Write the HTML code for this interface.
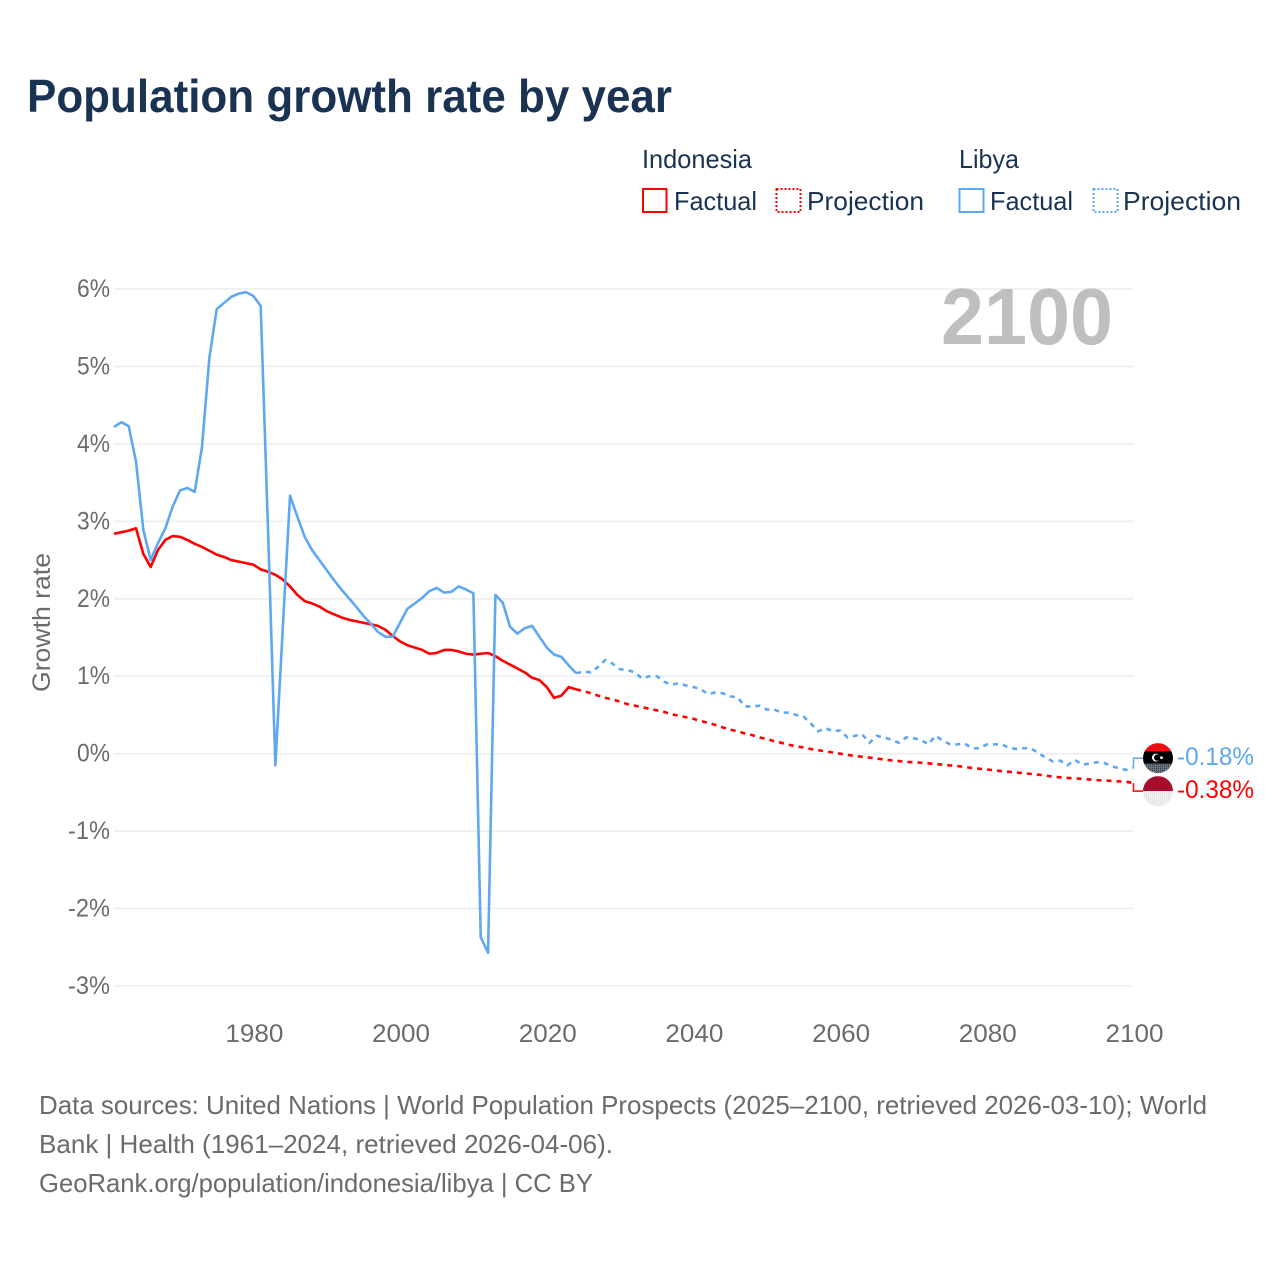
<!DOCTYPE html>
<html lang="en">
<head>
<meta charset="utf-8">
<title>Population growth rate by year</title>
<style>
html,body{margin:0;padding:0;background:#fff;}
svg{display:block;}
text{font-family:"Liberation Sans",sans-serif;}
</style>
</head>
<body>
<svg id="chart" xmlns="http://www.w3.org/2000/svg" width="1280" height="1280" viewBox="0 0 1280 1280">
  <defs>
    <clipPath id="flag-clip"><circle cx="0" cy="0" r="15"/></clipPath>
    <pattern id="dots-grey" width="2" height="2" patternUnits="userSpaceOnUse"><rect width="2" height="2" fill="#6a7580"/><rect width="1" height="1" fill="#2b3440"/></pattern>
    <pattern id="dots-light" width="2" height="2" patternUnits="userSpaceOnUse"><rect width="2" height="2" fill="#f0f0f0"/><rect width="1" height="1" fill="#dcdcdc"/></pattern>
  </defs>
  <rect width="1280" height="1280" fill="#ffffff"/>
  <text x="27" y="112" font-size="46" font-weight="700" fill="#1a3353" textLength="645" lengthAdjust="spacingAndGlyphs">Population growth rate by year</text>

  <g font-size="26" fill="#1a3353">
    <text x="642" y="168" textLength="110" lengthAdjust="spacingAndGlyphs">Indonesia</text>
    <text x="959" y="168" textLength="60" lengthAdjust="spacingAndGlyphs">Libya</text>
    <g>
      <rect x="643" y="189" width="23.5" height="23" fill="none" stroke="#ff0000" stroke-width="2"/>
      <text x="674" y="210" textLength="83" lengthAdjust="spacingAndGlyphs">Factual</text>
    </g>
    <g>
      <rect x="776.5" y="189" width="24" height="23" fill="none" stroke="#ff0000" stroke-width="2" stroke-dasharray="2 2"/>
      <text x="807" y="210" textLength="117" lengthAdjust="spacingAndGlyphs">Projection</text>
    </g>
    <g>
      <rect x="959.5" y="189" width="24" height="23" fill="none" stroke="#5fa8ef" stroke-width="2"/>
      <text x="990" y="210" textLength="83" lengthAdjust="spacingAndGlyphs">Factual</text>
    </g>
    <g>
      <rect x="1093.5" y="189" width="24" height="23" fill="none" stroke="#5fa8ef" stroke-width="2" stroke-dasharray="2 2"/>
      <text x="1123" y="210" textLength="118" lengthAdjust="spacingAndGlyphs">Projection</text>
    </g>
  </g>

  <g id="grid"></g>
  <text x="941" y="344" font-size="80" font-weight="700" fill="#bfbfbf" textLength="172" lengthAdjust="spacingAndGlyphs">2100</text>
  <g id="y-axis"></g>
  <g id="x-axis"></g>
  <text transform="translate(50,692) rotate(-90)" x="0" y="0" font-size="25" fill="#6b6b6b" textLength="139" lengthAdjust="spacingAndGlyphs">Growth rate</text>
  <g id="series"></g>
  <g id="end-labels"></g>

  <g font-size="26" fill="#6b6b6b">
    <text x="39" y="1114" textLength="1168" lengthAdjust="spacingAndGlyphs">Data sources: United Nations | World Population Prospects (2025–2100, retrieved 2026-03-10); World</text>
    <text x="39" y="1153" textLength="574" lengthAdjust="spacingAndGlyphs">Bank | Health (1961–2024, retrieved 2026-04-06).</text>
    <text x="39" y="1192" textLength="554" lengthAdjust="spacingAndGlyphs">GeoRank.org/population/indonesia/libya | CC BY</text>
  </g>
</svg>
<script>
const years = [
1961,1962,1963,1964,1965,1966,1967,1968,1969,1970,
1971,1972,1973,1974,1975,1976,1977,1978,1979,1980,
1981,1982,1983,1984,1985,1986,1987,1988,1989,1990,
1991,1992,1993,1994,1995,1996,1997,1998,1999,2000,
2001,2002,2003,2004,2005,2006,2007,2008,2009,2010,
2011,2012,2013,2014,2015,2016,2017,2018,2019,2020,
2021,2022,2023,2024,2025,2026,2027,2028,2029,2030,
2031,2032,2033,2034,2035,2036,2037,2038,2039,2040,
2041,2042,2043,2044,2045,2046,2047,2048,2049,2050,
2051,2052,2053,2054,2055,2056,2057,2058,2059,2060,
2061,2062,2063,2064,2065,2066,2067,2068,2069,2070,
2071,2072,2073,2074,2075,2076,2077,2078,2079,2080,
2081,2082,2083,2084,2085,2086,2087,2088,2089,2090,
2091,2092,2093,2094,2095,2096,2097,2098,2099,2100];
const indonesiaValues = [
2.84,2.86,2.88,2.91,2.58,2.41,2.63,2.76,2.81,2.80,
2.76,2.71,2.67,2.62,2.57,2.54,2.50,2.48,2.46,2.44,
2.38,2.35,2.31,2.25,2.16,2.05,1.97,1.94,1.90,1.84,
1.80,1.76,1.73,1.71,1.69,1.67,1.65,1.60,1.52,1.45,
1.40,1.37,1.34,1.29,1.30,1.34,1.34,1.32,1.29,1.28,
1.29,1.30,1.26,1.20,1.15,1.10,1.05,0.98,0.95,0.86,
0.72,0.75,0.86,0.83,0.81,0.78,0.75,0.72,0.70,0.67,
0.64,0.62,0.60,0.58,0.56,0.54,0.51,0.49,0.47,0.45,
0.42,0.40,0.37,0.34,0.31,0.29,0.26,0.24,0.21,0.19,
0.16,0.14,0.115,0.095,0.08,0.06,0.045,0.03,0.015,0.0,
-0.015,-0.03,-0.04,-0.05,-0.063,-0.076,-0.087,-0.096,-0.106,-0.11,
-0.116,-0.124,-0.134,-0.143,-0.152,-0.161,-0.17,-0.186,-0.195,-0.204,
-0.214,-0.226,-0.234,-0.243,-0.252,-0.261,-0.271,-0.283,-0.296,-0.305,
-0.313,-0.319,-0.325,-0.333,-0.341,-0.347,-0.351,-0.358,-0.363,-0.38];
const libyaValues = [
4.22,4.28,4.23,3.77,2.89,2.50,2.72,2.91,3.19,3.40,
3.43,3.38,3.96,5.11,5.74,5.82,5.90,5.94,5.96,5.91,
5.78,2.89,-0.15,1.60,3.33,3.06,2.80,2.63,2.50,2.37,
2.24,2.12,2.01,1.90,1.78,1.68,1.57,1.51,1.51,1.69,
1.87,1.94,2.01,2.10,2.14,2.08,2.09,2.16,2.12,2.07,
-2.37,-2.57,2.05,1.95,1.64,1.55,1.62,1.65,1.51,1.37,
1.28,1.25,1.14,1.04,1.06,1.05,1.12,1.21,1.16,1.09,
1.08,1.05,0.97,1.00,1.00,0.93,0.89,0.91,0.88,0.86,
0.83,0.77,0.79,0.78,0.74,0.73,0.61,0.61,0.62,0.57,
0.57,0.53,0.53,0.50,0.48,0.39,0.29,0.33,0.29,0.30,
0.21,0.23,0.25,0.14,0.23,0.21,0.18,0.14,0.21,0.20,
0.18,0.12,0.23,0.17,0.12,0.12,0.13,0.07,0.07,0.12,
0.12,0.12,0.08,0.06,0.07,0.07,0.01,-0.05,-0.10,-0.09,
-0.15,-0.08,-0.14,-0.13,-0.11,-0.12,-0.16,-0.19,-0.21,-0.18];
const lastFactualYear = 2024;
const xTickValues = [1980,2000,2020,2040,2060,2080,2100];
const yTickValues = [6,5,4,3,2,1,0,-1,-2,-3];

const NS = 'http://www.w3.org/2000/svg';
const RED = '#ff0000';
const BLUE = '#5fa8ef';
const GREY = '#6b6b6b';
const xLeft = 114, xRight = 1133.5, yTop = 289, yBottom = 986;
const xDomain = [1961, 2100], yDomain = [6, -3];

function xScale(year) {
  return xLeft + (year - xDomain[0]) * (xRight - xLeft) / (xDomain[1] - xDomain[0]);
}
function yScale(value) {
  return yTop + (value - yDomain[0]) * (yBottom - yTop) / (yDomain[1] - yDomain[0]);
}
function mk(tag, attrs, parent, content) {
  const el = document.createElementNS(NS, tag);
  for (const k in attrs) el.setAttribute(k, attrs[k]);
  if (content !== undefined) el.textContent = content;
  parent.appendChild(el);
  return el;
}
function linePath(values, fromYear, toYear) {
  let d = '';
  years.forEach(function (yr, i) {
    if (yr >= fromYear && yr <= toYear) {
      d += (d ? 'L' : 'M') + xScale(yr).toFixed(2) + ' ' + yScale(values[i]).toFixed(2);
    }
  });
  return d;
}

const gridG = document.getElementById('grid');
const yAxisG = document.getElementById('y-axis');
const xAxisG = document.getElementById('x-axis');
const seriesG = document.getElementById('series');
const endG = document.getElementById('end-labels');

yTickValues.forEach(function (v) {
  const line = mk('line', {x1: xLeft, x2: xRight, y1: yScale(v), y2: yScale(v), stroke: '#eeeeee', 'stroke-width': 1.6}, gridG);
  
  
  const label = v + '%';
  const w = label.length === 3 ? 42 : 33;
  const t = mk('text', {x: 110, y: yScale(v) + 8, 'text-anchor': 'end', 'font-size': 25, fill: GREY, textLength: w, lengthAdjust: 'spacingAndGlyphs'}, yAxisG, label);
  
  
});

xTickValues.forEach(function (yr) {
  const t = mk('text', {x: xScale(yr) + 1, y: 1042, 'text-anchor': 'middle', 'font-size': 25, fill: GREY, textLength: 58, lengthAdjust: 'spacingAndGlyphs'}, xAxisG, String(yr));
  
  
});

const indoFactual = mk('path', {d: linePath(indonesiaValues, 1961, lastFactualYear), fill: 'none', stroke: RED, 'stroke-width': 2.6, 'stroke-linejoin': 'round'}, seriesG);


const indoProj = mk('path', {d: linePath(indonesiaValues, lastFactualYear, 2100), fill: 'none', stroke: RED, 'stroke-width': 2.6, 'stroke-dasharray': '5 5'}, seriesG);


const libyaFactual = mk('path', {d: linePath(libyaValues, 1961, lastFactualYear), fill: 'none', stroke: BLUE, 'stroke-width': 2.6, 'stroke-linejoin': 'round'}, seriesG);


const libyaProj = mk('path', {d: linePath(libyaValues, lastFactualYear, 2100), fill: 'none', stroke: BLUE, 'stroke-width': 2.6, 'stroke-dasharray': '5 5'}, seriesG);



const endX = xScale(2100);
const libyaEndValue = libyaValues[libyaValues.length - 1];
const indoEndValue = indonesiaValues[indonesiaValues.length - 1];
const libyaEndY = yScale(libyaEndValue);
const indoEndY = yScale(indoEndValue);
const libyaLabelY = libyaEndY - 9.5;
const indoLabelY = indoEndY + 8;

const libyaConn = mk('path', {d: 'M' + endX + ' ' + libyaEndY + 'V' + libyaLabelY + 'H1143', fill: 'none', stroke: BLUE, 'stroke-width': 1.5}, endG);


const indoConn = mk('path', {d: 'M' + endX + ' ' + indoEndY + 'V' + indoLabelY + 'H1143', fill: 'none', stroke: RED, 'stroke-width': 1.5}, endG);



const libyaFlag = mk('g', {transform: 'translate(1158,' + libyaLabelY + ')', 'clip-path': 'url(#flag-clip)'}, endG);


mk('rect', {x: -15, y: -15, width: 30, height: 8, fill: '#f10d12'}, libyaFlag);
mk('rect', {x: -15, y: -7, width: 30, height: 13, fill: '#000000'}, libyaFlag);
mk('rect', {x: -15, y: 5.5, width: 30, height: 10, fill: 'url(#dots-grey)'}, libyaFlag);
mk('circle', {cx: -2, cy: -0.5, r: 4, fill: '#ffffff'}, libyaFlag);
mk('circle', {cx: -0.8, cy: -0.5, r: 3.2, fill: '#000000'}, libyaFlag);
mk('circle', {cx: 3.5, cy: -0.5, r: 1.4, fill: '#ffffff'}, libyaFlag);

const indoFlag = mk('g', {transform: 'translate(1158,' + indoLabelY + ')', 'clip-path': 'url(#flag-clip)'}, endG);


mk('rect', {x: -15, y: -15, width: 30, height: 15, fill: '#a50e2d'}, indoFlag);
mk('rect', {x: -15, y: 0, width: 30, height: 15, fill: 'url(#dots-light)'}, indoFlag);

const libyaEnd = mk('text', {x: 1177, y: libyaLabelY + 7, 'font-size': 25, fill: BLUE, textLength: 77, lengthAdjust: 'spacingAndGlyphs'}, endG, libyaEndValue.toFixed(2) + '%');


const indoEnd = mk('text', {x: 1177, y: indoLabelY + 7, 'font-size': 25, fill: RED, textLength: 77, lengthAdjust: 'spacingAndGlyphs'}, endG, indoEndValue.toFixed(2) + '%');


</script>
</body>
</html>
